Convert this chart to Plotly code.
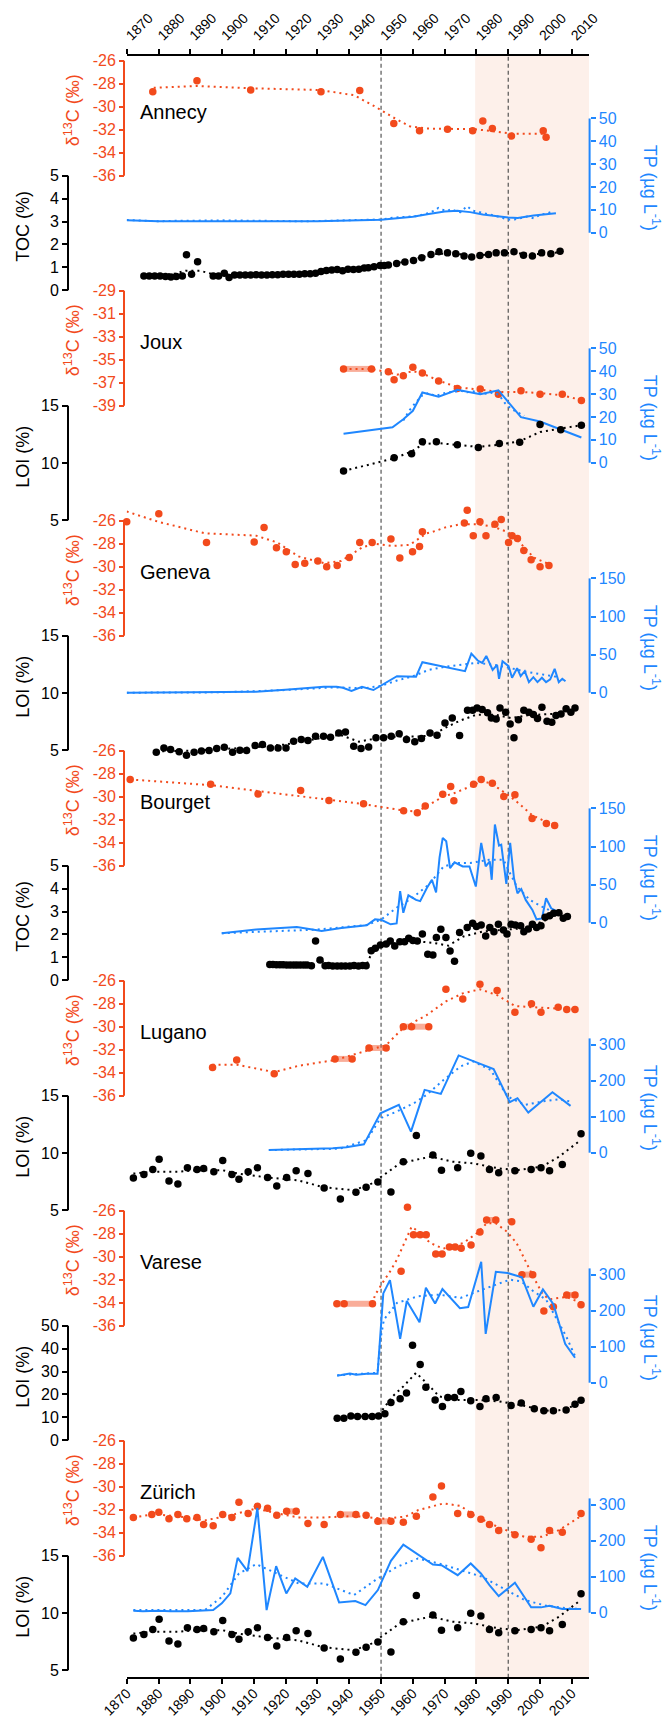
import plotly.graph_objects as go

W, H = 669, 1718
FONT = "Liberation Sans, Arial, Helvetica, sans-serif"
ORANGE = "#F24A1C"
BAR = "rgba(242,74,28,0.45)"
BLUE = "#1F87FF"
BLACK = "#000000"
SHADE = "#FDF0EA"
DOT = "2px,4px"

X_RANGE = [1870, 2015.4]
X_PX = [126.7, 589.0]
Y_TOP_PX, Y_BOT_PX = 55.0, 1677.7
YEAR_TICKS = list(range(1870, 2011, 10))
SHADE_START = 1979.6
DASH_YEARS = [1950, 1990]

# ---------------- Annecy ----------------
ann_c_yr = [1878.2, 1892.1, 1909.0, 1931.1, 1943.3, 1954.0, 1962.1, 1970.9, 1978.8, 1982.0, 1985.0, 1991.0, 2001.0, 2001.9]
ann_c = [-28.7, -27.75, -28.55, -28.7, -28.6, -31.45, -32.1, -31.95, -32.1, -31.25, -31.9, -32.55, -32.1, -32.65]
ann_cfit_yr = [1878.5, 1892, 1909, 1930.8, 1941.5, 1948.2, 1953.6, 1959, 1964.4, 1971, 1979, 1984.5, 1991, 1997.7, 2001.9]
ann_cfit = [-28.35, -28.2, -28.4, -28.55, -29.0, -30.0, -30.9, -31.7, -31.9, -31.95, -31.95, -32.1, -32.35, -32.35, -32.35]
ann_bars = []
ann_tp_yr = [1870, 1880, 1890, 1900, 1910, 1920, 1930, 1940, 1945, 1950, 1955, 1960, 1965, 1970, 1974, 1978, 1982, 1986, 1990, 1993, 1998, 2005]
ann_tp = [5.4, 5.0, 5.0, 5.1, 5.0, 5.0, 5.0, 5.2, 5.3, 5.7, 6.3, 7.0, 8.2, 9.3, 9.6, 9.0, 8.0, 7.2, 6.6, 6.4, 7.5, 8.5]
ann_tpm_yr = [1870, 1875, 1880, 1885, 1890, 1895, 1900, 1905, 1910, 1915, 1920, 1925, 1930, 1935, 1940, 1945, 1950,
              1954, 1957, 1959, 1961, 1963, 1965, 1967, 1968, 1969, 1971, 1972, 1974, 1975, 1976, 1977, 1978, 1979,
              1981, 1983, 1985, 1987, 1989, 1990, 1992, 1994, 1996, 1998, 2000, 2002, 2004]
ann_tpm = [5.6, 5.2, 5.0, 5.2, 5.1, 5.3, 5.4, 5.3, 5.1, 5.0, 5.1, 5.0, 5.1, 5.2, 5.4, 5.5, 5.8,
           6.6, 6.9, 7.3, 7.2, 7.9, 8.6, 9.8, 10.8, 10.1, 9.6, 10.4, 9.1, 9.0, 10.2, 11.6, 10.5, 9.6,
           9.0, 8.4, 7.8, 7.0, 6.1, 5.7, 5.8, 6.4, 7.1, 6.3, 7.8, 8.4, 9.3]
ann_om_yr = [1875.4, 1877.1, 1878.8, 1880.5, 1882.2, 1883.9, 1885.6, 1887.5, 1888.8, 1890.4, 1892.3,
             1897.2, 1898.9, 1900.7, 1902.2, 1903.9, 1905.6, 1907.3, 1909.0, 1910.7,
             1912.4, 1914.1, 1915.8, 1917.5, 1919.2, 1920.9, 1922.6, 1924.3, 1926.0, 1927.7,
             1929.4, 1931.1, 1932.8, 1934.5, 1936.2, 1937.9, 1939.6, 1941.3, 1943.0, 1944.7,
             1946.0, 1947.8, 1949.7, 1951.0, 1952.3, 1954.9, 1957.5, 1960.2, 1962.8, 1965.7,
             1968.2, 1970.9, 1973.5, 1976.1, 1978.5, 1981.1, 1983.8, 1986.2, 1988.8, 1991.8,
             1994.8, 1997.6, 2000.5, 2003.4, 2006.3]
ann_om = [0.62, 0.62, 0.62, 0.62, 0.6, 0.58, 0.6, 0.62, 1.55, 0.7, 1.24,
          0.62, 0.62, 0.74, 0.56, 0.66, 0.66, 0.66, 0.66, 0.68,
          0.66, 0.66, 0.68, 0.68, 0.7, 0.7, 0.7, 0.7, 0.72, 0.72,
          0.74, 0.82, 0.86, 0.88, 0.9, 0.85, 0.92, 0.9, 0.92, 0.97,
          0.98, 1.02, 1.08, 1.08, 1.1, 1.17, 1.23, 1.3, 1.42, 1.56,
          1.68, 1.63, 1.59, 1.49, 1.45, 1.52, 1.56, 1.63, 1.63, 1.68,
          1.53, 1.49, 1.63, 1.59, 1.7]
ann_omfit_yr = [1875.4, 1885, 1888.5, 1893, 1897.2, 1905, 1915, 1925, 1935, 1945, 1955, 1962, 1967, 1972, 1980, 1990, 2000, 2006.3]
ann_omfit = [0.62, 0.72, 0.85, 0.85, 0.7, 0.66, 0.68, 0.71, 0.87, 0.96, 1.17, 1.4, 1.58, 1.6, 1.52, 1.62, 1.58, 1.66]

# ---------------- Joux ----------------
joux_c_yr = [1938.2, 1947.0, 1952.3, 1954.1, 1957.0, 1960.0, 1963.0, 1968.1, 1974.0, 1981.2, 1986.9, 1994.0, 2000.0, 2007.0, 2013.0]
joux_c = [-35.8, -35.8, -36.05, -36.75, -36.4, -35.65, -36.15, -36.85, -37.5, -37.55, -38.0, -37.7, -38.0, -38.0, -38.55]
joux_cfit_yr = [1938.2, 1947, 1952.3, 1955, 1960, 1963, 1968, 1974, 1981, 1987, 1994, 2000, 2007, 2013]
joux_cfit = [-35.8, -35.8, -36.1, -36.3, -36.0, -36.2, -36.8, -37.4, -37.6, -37.8, -37.8, -37.9, -38.1, -38.5]
joux_bars = [(1938.2, 1947.0, -35.8)]
joux_tp_yr = [1938.2, 1952.3, 1953.6, 1957.0, 1960.0, 1963.0, 1968.1, 1974.0, 1981.2, 1986.9, 1994.0, 2000.0, 2007.0, 2013.0]
joux_tp = [12.7, 15.1, 15.5, 19.0, 22.7, 30.7, 28.9, 31.9, 30.0, 31.7, 19.9, 18.0, 14.3, 11.0]
joux_tpm_yr = [1957, 1959, 1961, 1963, 1965, 1967, 1969, 1971, 1973, 1975, 1977, 1979, 1981, 1983, 1985, 1987, 1989, 1991, 1993, 1995]
joux_tpm = [18.5, 23.0, 26.5, 29.5, 30.5, 29.2, 30.0, 30.8, 31.0, 31.5, 30.8, 31.2, 30.5, 30.2, 30.6, 29.8, 26.0, 23.5, 22.0, 20.5]
joux_om_yr = [1938.2, 1954.1, 1959.6, 1963.0, 1967.4, 1974.0, 1980.6, 1987.2, 1993.6, 2000.0, 2006.5, 2013.0]
joux_om = [9.3, 10.45, 10.8, 11.85, 11.85, 11.6, 11.35, 11.7, 11.8, 13.35, 12.9, 13.3]
joux_omfit_yr = [1938.2, 1954.1, 1959.6, 1963.0, 1967.4, 1974.0, 1980.6, 1987.2, 1993.6, 2000.0, 2006.5, 2013.0]
joux_omfit = [9.3, 10.4, 11.0, 11.6, 11.75, 11.6, 11.4, 11.6, 11.9, 12.7, 13.0, 13.3]

# ---------------- Geneva ----------------
gen_c_yr = [1870.0, 1880.1, 1895.1, 1910.1, 1913.2, 1917.1, 1920.2, 1923.0, 1926.0, 1930.1, 1932.9, 1936.2,
            1940.0, 1943.3, 1947.2, 1953.1, 1955.9, 1959.9, 1962.1, 1963.0, 1976.2, 1977.1, 1979.0, 1981.1,
            1983.0, 1985.8, 1987.8, 1990.1, 1991.2, 1992.9, 1994.9, 1997.2, 2000.0, 2002.8]
gen_c = [-26.1, -25.4, -27.9, -27.85, -26.6, -28.35, -28.7, -29.8, -29.7, -29.5, -30.0, -29.9,
         -29.2, -27.9, -27.9, -27.6, -29.25, -28.7, -28.25, -26.95, -26.2, -25.1, -27.3, -26.1,
         -27.3, -26.3, -25.9, -27.9, -27.3, -27.55, -28.6, -29.4, -30.0, -29.9]
gen_cfit_yr = [1870, 1880, 1894.6, 1910.7, 1917.4, 1924, 1932.1, 1937.5, 1944.2, 1948.2, 1953.6, 1959, 1964.3,
               1967, 1970, 1975, 1980, 1985, 1990, 1994, 1998, 2003]
gen_cfit = [-25.2, -26.1, -27.1, -27.3, -27.9, -29.1, -29.7, -29.5, -28.3, -28.0, -28.2, -28.1, -27.1,
            -26.9, -26.6, -26.3, -26.3, -26.5, -27.0, -28.0, -29.2, -29.8]
gen_bars = []
gen_tp_yr = [1870, 1900, 1910.7, 1921, 1932, 1936, 1938, 1940.7, 1944, 1947.6, 1955, 1961, 1963, 1976.4,
             1978.4, 1980.4, 1981.8, 1983.1, 1985.1, 1986.5, 1987.1, 1988.2, 1990.1, 1991.2, 1992.8, 1993.9,
             1995.2, 1996.5, 1997.9, 1999.2, 2000.6, 2001.9, 2003.2, 2004.6, 2005.9, 2007, 2008]
gen_tp = [0, 1, 1.3, 4.3, 7.8, 7.8, 6.5, 2.2, 7.8, 3.5, 21.7, 20.9, 40, 28.3,
          51.3, 42.2, 39, 48.3, 30, 36.5, 18.3, 41.3, 34.8, 19.6, 32.2, 21.7,
          28.3, 13.9, 20.4, 13.9, 19.6, 13.9, 17.4, 31.3, 13.9, 18.3, 15.0]
gen_tpm_yr = [1870, 1900, 1920, 1935, 1945, 1950, 1955, 1960, 1965, 1970, 1976, 1980, 1985, 1990, 1995, 2000, 2005]
gen_tpm = [0, 0.5, 3.5, 7, 6, 9, 16, 21.5, 30, 34, 37, 39, 37, 33, 28, 24, 21]
gen_om_yr = [1879.3, 1881.7, 1883.8, 1886.5, 1888.8, 1891.2, 1893.5, 1895.9, 1898.3, 1900.7,
             1903.3, 1905.6, 1907.7, 1910.4, 1912.7, 1915.2, 1917.6, 1920.1, 1922.5, 1924.9,
             1927.0, 1929.4, 1931.9, 1934.1, 1936.7, 1938.8, 1941.4, 1943.7, 1946.1, 1948.4,
             1950.8, 1953.2, 1955.7, 1958.0, 1960.6, 1962.7, 1965.4, 1967.6, 1970.1, 1972.4,
             1974.7, 1977.2, 1978.8, 1980.2, 1981.8, 1983.5, 1984.7, 1986.2, 1987.4, 1989.2,
             1990.6, 1991.8, 1993.2, 1994.9, 1996.5, 1997.9, 1999.2, 2000.6, 2002.2, 2003.7,
             2005.0, 2006.6, 2008.2, 2009.7, 2011.0]
gen_om = [4.83, 5.2, 5.06, 4.86, 4.55, 4.83, 4.92, 4.97, 5.15, 5.26,
          4.83, 5.0, 4.97, 5.41, 5.49, 5.2, 5.2, 5.2, 5.78, 5.93,
          5.84, 6.22, 6.22, 6.13, 6.51, 6.6, 5.35, 5.15, 5.29, 6.08,
          6.08, 6.22, 6.43, 5.93, 5.73, 6.02, 6.51, 6.31, 7.38, 7.82,
          6.28, 8.49, 8.49, 8.69, 8.55, 8.26, 7.82, 7.73, 8.69, 8.31,
          7.29, 6.08, 7.67, 8.49, 8.31, 8.11, 7.76, 8.75, 7.53, 7.44,
          8.02, 8.17, 8.63, 8.31, 8.69]
gen_omfit_yr = [1879.3, 1890, 1900, 1910, 1920, 1930, 1937, 1943, 1950, 1956, 1962, 1966, 1970.5, 1975,
                1980, 1986, 1991, 1996, 2001, 2006, 2011]
gen_omfit = [4.9, 4.95, 5.1, 5.25, 5.5, 6.0, 6.35, 5.75, 6.1, 6.2, 6.2, 6.3, 7.0, 7.6,
             8.1, 8.1, 7.8, 8.05, 8.15, 8.2, 8.5]

# ---------------- Bourget ----------------
bou_c_yr = [1871.1, 1896.4, 1911.3, 1924.7, 1933.6, 1944.5, 1957.1, 1961.4, 1963.9, 1969.4, 1971.9, 1972.9,
            1979.1, 1981.5, 1985.0, 1988.6, 1992.1, 1997.5, 2002.0, 2004.6]
bou_c = [-28.51, -28.92, -29.76, -29.47, -30.34, -30.62, -31.23, -31.4, -30.8, -29.79, -29.12, -30.36,
         -28.92, -28.51, -28.83, -29.99, -29.84, -31.9, -32.33, -32.5]
bou_cfit_yr = [1871.1, 1896.4, 1911.3, 1924.7, 1933.6, 1944.5, 1957.1, 1961.4, 1963.9, 1969.4, 1972.9,
               1979.1, 1981.5, 1985.0, 1988.6, 1992.1, 1997.5, 2002.0, 2004.6]
bou_cfit = [-28.5, -29.0, -29.5, -29.95, -30.25, -30.65, -31.2, -31.3, -30.9, -30.0, -29.7,
            -29.0, -28.6, -28.9, -29.6, -30.3, -31.6, -32.2, -32.4]
bou_bars = []
bou_tp_yr = [1899.9, 1910.7, 1923.5, 1931.3, 1937.5, 1945.5, 1948.1, 1950.2, 1953.0, 1954.9, 1956.0, 1957.0,
             1958.6, 1961.0, 1962.3, 1964.4, 1966.0, 1967.3, 1968.4, 1969.4, 1970.5, 1971.7, 1973.1, 1975.7,
             1977.8, 1979.8, 1981.5, 1982.9, 1984.2, 1984.8, 1985.8, 1987.1, 1987.8, 1989.4, 1990.6, 1991.8,
             1992.9, 1994.1, 1995.5, 1997.6, 1998.9, 2000.6, 2001.9, 2003.5, 2004.9, 2005.9]
bou_tp = [-13.8, -9, -5.6, -10.8, -7, -3.4, 4.4, 3.5, -2.1, -1, 41.3, 13.0,
          36.0, 30, 28.3, 45.6, 56.3, 39.6, 85.8, 111.3, 106.9, 71.7, 79.2, 73.9,
          73.9, 47.5, 104.7, 73.9, 80.5, 56.3, 128.9, 101.2, 102.5, 51.0, 104.7, 58.5,
          38.7, 44.0, 29.9, 16.7, 4.4, 5.7, 32.1, 18.9, 15.8, 14.5]
bou_tpm_yr = [1899.9, 1930, 1945.5, 1950, 1955, 1960, 1965, 1969.7, 1974, 1978, 1984, 1988.5, 1990, 1992.7, 1996.8, 2000.6, 2004.6]
bou_tpm = [-13.8, -9, -3, 4, 20, 33, 50, 73.9, 78.3, 78.3, 82.7, 82.7, 69.5, 47.5, 29.9, 21.1, 13.2]
bou_om_yr = [1915.0, 1916.0, 1917.1, 1918.2, 1919.2, 1920.3, 1921.4, 1922.5, 1923.5, 1924.6, 1925.7, 1926.7, 1928.1,
             1929.4, 1930.8, 1932.4,
             1933.5, 1934.8, 1936.2, 1937.5, 1938.8, 1940.2, 1941.5, 1942.9, 1944.2, 1945.3,
             1946.9, 1948.2, 1949.8, 1951.6, 1952.9, 1954.3, 1955.9, 1957.4, 1958.7, 1960.0,
             1961.4, 1963.0, 1964.7, 1966.3, 1967.4, 1968.8, 1970.4, 1971.7, 1973.1, 1974.7,
             1977.1, 1978.8, 1980.0, 1981.5, 1982.9, 1984.2, 1985.5, 1986.9, 1988.5, 1989.6,
             1990.9, 1992.2, 1993.9, 1994.9, 1996.3, 1997.6, 1998.9, 2000.3, 2001.6, 2003.0,
             2004.3, 2005.9, 2007.3, 2008.6]
bou_om = [0.69, 0.69, 0.68, 0.67, 0.67, 0.66, 0.66, 0.66, 0.66, 0.66, 0.66, 0.66, 0.63,
          1.71, 0.88, 0.63,
          0.64, 0.62, 0.62, 0.62, 0.62, 0.62, 0.64, 0.62, 0.64, 0.63,
          1.29, 1.39, 1.54, 1.58, 1.71, 1.49, 1.68, 1.68, 1.83, 1.73,
          1.71, 2.02, 1.13, 1.1, 1.86, 2.22, 1.86, 1.27, 0.83, 2.08,
          2.3, 2.49, 2.34, 2.41, 1.93, 2.3, 2.12, 2.44, 2.19, 2.02,
          2.44, 2.41, 2.38, 2.12, 2.24, 2.44, 2.3, 2.38, 2.75, 2.81,
          2.92, 2.95, 2.7, 2.78]
bou_omfit_yr = [1915.0, 1928.1, 1930.8, 1933.5, 1945.3, 1947.1, 1950, 1955, 1961.2, 1966.4, 1971.2, 1975.9,
                1982.2, 1989.5, 1995.8, 2002.1, 2006.3, 2008.6]
bou_omfit = [0.68, 0.66, 0.9, 0.64, 0.64, 1.2, 1.5, 1.63, 1.7, 1.63, 1.51, 1.91,
             2.13, 2.2, 2.28, 2.64, 2.93, 2.85]

# ---------------- Lugano ----------------
lug_c_yr = [1897.0, 1904.6, 1916.4, 1935.5, 1940.9, 1946.2, 1951.6, 1957.0, 1959.6, 1965.0, 1970.4, 1975.7,
            1981.1, 1986.5, 1992.1, 1997.3, 2000.3, 2005.7, 2008.4, 2011.0]
lug_c = [-33.55, -32.9, -34.1, -32.8, -32.8, -31.85, -31.85, -30.0, -30.0, -30.0, -26.75, -27.6,
         -26.3, -26.85, -28.75, -28.0, -28.75, -28.3, -28.5, -28.5]
lug_cfit_yr = [1897, 1904.6, 1916.4, 1924, 1935.5, 1946.2, 1951.6, 1957, 1964.3, 1970.4, 1975.7, 1981.1,
               1986.5, 1989.8, 1992.1, 1997.3, 2004, 2011]
lug_cfit = [-33.3, -33.3, -33.95, -33.4, -32.9, -32.0, -31.6, -30.1, -29.0, -27.8, -27.1, -26.75,
            -27.25, -27.8, -28.2, -28.3, -28.4, -28.5]
lug_bars = [(1935.5, 1940.9, -32.8), (1946.2, 1951.6, -31.85), (1957.0, 1965.0, -30.0)]
lug_tp_yr = [1914.7, 1924.1, 1934.8, 1939.1, 1944.6, 1949.8, 1955.6, 1959.4, 1963.7, 1968.8, 1974.4, 1979.8,
             1985.4, 1990.5, 1992.9, 1996.3, 2003.9, 2009.6]
lug_tp = [7.4, 9.3, 12.1, 14.9, 23.2, 109.6, 132.8, 58.5, 174.6, 163.4, 270.2, 251.6,
          232.1, 140.2, 151.3, 111.4, 168.1, 130.0]
lug_tpm_yr = [1914.7, 1937, 1945.5, 1949.8, 1954.9, 1960.3, 1964.3, 1969.7, 1975, 1979, 1984.4, 1989.8,
              1995.2, 2000.6, 2006, 2009.6]
lug_tpm = [7.4, 11, 35, 95.6, 114.2, 137.4, 160.6, 202.4, 239.6, 253.5, 230.3, 156,
           132.8, 142.1, 148.6, 142]
lug_om_yr = [1872.1, 1875.4, 1878.2, 1880.2, 1883.3, 1886.1, 1889.1, 1892.1, 1894.2, 1897.4,
             1900.2, 1903.1, 1905.3, 1908.2, 1911.1, 1914.3, 1917.2, 1920.3, 1923.3, 1927.0,
             1932.1, 1937.2, 1942.1, 1945.3, 1949.0, 1953.1, 1957.0, 1961.1, 1966.3, 1969.0,
             1974.1, 1978.2, 1981.4, 1984.1, 1987.0, 1992.1, 1997.2, 2000.3, 2003.0, 2007.0, 2012.9]
lug_om = [7.82, 8.12, 8.56, 9.44, 7.56, 7.29, 8.71, 8.56, 8.65, 8.35,
          9.35, 8.12, 7.71, 8.35, 8.71, 7.85, 7.12, 7.85, 8.44, 8.21,
          6.94, 5.97, 6.56, 7.0, 7.47, 6.59, 9.24, 11.53, 9.82, 8.5,
          8.71, 9.97, 9.74, 8.56, 8.26, 8.44, 8.56, 8.71, 8.44, 9.0, 11.68]
lug_omfit_yr = [1872.1, 1878.2, 1886, 1892, 1900, 1905, 1913, 1924, 1932, 1941.5, 1947, 1956, 1965.7,
                1972.4, 1979, 1987, 1993, 2000.6, 2006, 2012.9]
lug_omfit = [8.2, 8.35, 8.35, 8.5, 8.5, 8.2, 7.9, 7.6, 7.0, 6.74, 7.32, 9.1, 9.68,
             9.24, 9.09, 8.65, 8.5, 8.8, 9.68, 11.15]

# ---------------- Varese ----------------
var_c_yr = [1936.1, 1938.4, 1947.3, 1956.3, 1958.3, 1960.2, 1962.3, 1964.2, 1967.2, 1969.2, 1971.5, 1973.3,
            1975.2, 1978.3, 1981.1, 1983.2, 1986.1, 1991.1, 1994.3, 1997.7, 2001.2, 2004.2, 2008.4, 2011.0, 2012.9]
var_c = [-34.1, -34.1, -34.1, -31.27, -25.7, -28.1, -28.1, -28.1, -29.77, -29.77, -29.16, -29.16,
         -29.27, -28.98, -27.85, -26.81, -26.81, -26.96, -31.56, -31.56, -34.73, -34.35, -33.33, -33.33, -34.18]
var_cfit_yr = [1947.3, 1948.1, 1950.7, 1952.8, 1954.9, 1957.0, 1959.6, 1962.3, 1965.4, 1969.6, 1975.9, 1980.1,
               1983.2, 1986.1, 1989.5, 1992.6, 1994.7, 1997.8, 2000.9, 2003.0, 2008.2, 2012.9]
var_cfit = [-34.1, -33.33, -32.17, -31.3, -30.3, -28.98, -27.4, -27.9, -28.8, -29.3, -28.8, -27.97,
            -27.1, -27.1, -27.8, -28.8, -30.0, -31.7, -33.3, -33.7, -33.5, -34.0]
var_bars = [(1936.1, 1947.3, -34.1), (1960.2, 1964.2, -28.1), (1967.2, 1969.2, -29.77),
            (1971.5, 1973.3, -29.16), (1983.2, 1986.1, -26.81), (1994.3, 1997.7, -31.56), (2008.4, 2011.0, -33.33)]
var_tp_yr = [1936.2, 1937.5, 1940.2, 1942.2, 1945.5, 1948.9, 1950.7, 1952.8, 1956.0, 1958.1, 1962.1, 1964.1,
             1967.0, 1969.3, 1974.8, 1977.4, 1981.5, 1982.9, 1986.1, 1989.8, 1994.3, 1997.9, 2000.9, 2004.2,
             2007.9, 2011.0]
var_tp = [20.3, 21.2, 25.8, 22.2, 24.9, 24.9, 248, 285, 121.9, 227, 168, 264,
          220, 260, 206.7, 210, 336, 135.7, 308, 304.7, 292.6, 211, 259, 218,
          108, 69.3]
var_tpm_yr = [1936.2, 1948.9, 1949.8, 1950.9, 1955, 1961.6, 1968.3, 1975, 1981.8, 1986.5, 1990.5, 1994.1,
              1997.9, 2001.9, 2005.4, 2008.2, 2011.0]
var_tpm = [20.3, 27.7, 120, 175.4, 221.6, 240, 244.7, 235.5, 258.5, 272.4, 286.2, 281.6,
           253.9, 230.8, 175.4, 129.3, 73.9]
var_om_yr = [1936.2, 1938.3, 1940.5, 1942.6, 1945.0, 1947.2, 1949.2, 1951.2, 1953.1, 1956.0, 1958.0, 1959.9,
             1962.3, 1964.1, 1967.0, 1969.3, 1971.0, 1973.1, 1975.1, 1978.2, 1981.1, 1983.0, 1986.2, 1990.9,
             1994.1, 1998.2, 2001.2, 2004.2, 2008.2, 2011.0, 2012.9]
var_om = [9.6, 9.6, 10.6, 10.3, 10.3, 10.3, 10.6, 11.5, 16.5, 18.1, 20.6, 41.5,
          33.1, 23.1, 17.6, 14.7, 18.7, 18.7, 21.3, 17.2, 14.7, 18.1, 18.7, 15.1,
          16.2, 13.7, 12.9, 12.9, 13.2, 15.7, 17.4]
var_omfit_yr = [1936.2, 1949.2, 1953.6, 1957, 1961, 1964.3, 1968.3, 1973.7, 1980.4, 1987.2, 1993.9, 2000.6,
                2004.6, 2010, 2012.9]
var_omfit = [9.6, 10.9, 19.1, 23.5, 29.4, 25.0, 19.1, 17.6, 17.6, 16.9, 15.4, 13.2,
             12.5, 14.7, 17.2]

# ---------------- Zürich ----------------
zur_c_yr = [1872.1, 1877.9, 1880.1, 1883.3, 1886.1, 1888.9, 1892.1, 1894.2, 1897.2, 1900.2, 1903.1, 1905.3,
            1908.2, 1911.1, 1914.3, 1917.2, 1920.3, 1923.3, 1927.0, 1932.1, 1937.2, 1942.1, 1945.3, 1949.0,
            1953.1, 1957.0, 1961.1, 1966.3, 1969.0, 1974.1, 1978.2, 1981.4, 1984.1, 1987.0, 1992.1, 1997.2,
            2000.3, 2003.0, 2007.0, 2012.9]
zur_c = [-32.67, -32.41, -32.23, -32.78, -32.41, -32.78, -32.67, -33.28, -33.39, -32.41, -32.67, -31.36,
         -32.32, -31.71, -31.88, -32.49, -32.14, -32.14, -33.19, -33.28, -32.41, -32.41, -32.49, -33.01,
         -33.01, -33.10, -32.58, -30.90, -29.94, -32.32, -32.41, -32.84, -33.28, -33.80, -34.17, -34.58,
         -35.30, -33.80, -33.97, -32.32]
zur_cfit_yr = [1872.1, 1878.4, 1886.5, 1894.6, 1902.6, 1910.7, 1917.4, 1924, 1932.1, 1941.5, 1951, 1957.7,
               1961.7, 1969.7, 1975.1, 1979, 1987, 1995, 2000.6, 2006, 2012.9]
zur_cfit = [-32.67, -32.4, -32.58, -32.93, -32.49, -31.9, -32.32, -32.67, -32.67, -32.55, -32.78, -32.6,
            -32.03, -31.45, -31.68, -32.46, -33.54, -34.35, -34.35, -33.77, -32.55]
zur_bars = [(1920.3, 1923.3, -32.14), (1937.2, 1942.1, -32.41), (1949.0, 1953.1, -33.01)]
zur_tp_yr = [1872.1, 1875.1, 1879.8, 1883.8, 1889.2, 1894.6, 1897.2, 1899.9, 1902.6, 1904.9, 1908.0, 1911.1,
             1914.0, 1917.0, 1920.2, 1923.0, 1926.8, 1931.7, 1936.8, 1941.9, 1945.1, 1949.0, 1953.1, 1957.0,
             1966.3, 1969.0, 1974.1, 1978.2, 1981.4, 1984.1, 1987.0, 1992.1, 1997.2, 2000.3, 2003.0, 2007.0, 2012.9]
zur_tp = [5.5, 3.7, 5.5, 3.7, 3.7, 5.5, 7.4, 25.9, 53.6, 152.4, 115.4, 290.9,
          7.4, 129.3, 53.6, 95.1, 72.0, 155.1, 28.6, 32.3, 21.2, 62.8, 144.0, 189.3,
          133.9, 132.0, 104.3, 136.7, 109.0, 76.6, 46.2, 83.1, 14.8, 14.8, 19.4, 10.2, 10.2]
zur_tpm_yr = [1872.1, 1894.6, 1900.0, 1905.3, 1910.7, 1917.4, 1924.1, 1932.1, 1941.5, 1948.2, 1955.0, 1961.6,
              1968.3, 1975.0, 1981.8, 1988.5, 1995.2, 2001.9, 2008.6, 2012.9]
zur_tpm = [7.4, 7.4, 44.3, 109, 134.8, 109, 81.3, 81.3, 49, 90.5, 127.4, 150.5,
           136.7, 118.2, 99.7, 67.4, 35.1, 19.4, 12.0, 10.2]
zur_om_yr = list(lug_om_yr)
zur_om = list(lug_om)
zur_omfit_yr = list(lug_omfit_yr)
zur_omfit = list(lug_omfit)

C_TICKS_26 = [-26, -28, -30, -32, -34, -36]
C_TICKS_29 = [-29, -31, -33, -35, -37, -39]

panels = [
    dict(name="Annecy", om_title="TOC (%)", c_ticks=C_TICKS_26, om_ticks=[0, 1, 2, 3, 4, 5],
         tp_ticks=[0, 10, 20, 30, 40, 50], tp_ref=50, tp_ref_off=57.7,
         c=(ann_c_yr, ann_c), cfit=(ann_cfit_yr, ann_cfit), bars=ann_bars,
         tp=(ann_tp_yr, ann_tp), tpm=(ann_tpm_yr, ann_tpm), om=(ann_om_yr, ann_om), omfit=(ann_omfit_yr, ann_omfit)),
    dict(name="Joux", om_title="LOI (%)", c_ticks=C_TICKS_29, om_ticks=[5, 10, 15],
         tp_ticks=[0, 10, 20, 30, 40, 50], tp_ref=50, tp_ref_off=57.7,
         c=(joux_c_yr, joux_c), cfit=(joux_cfit_yr, joux_cfit), bars=joux_bars,
         tp=(joux_tp_yr, joux_tp), tpm=(joux_tpm_yr, joux_tpm), om=(joux_om_yr, joux_om), omfit=(joux_omfit_yr, joux_omfit)),
    dict(name="Geneva", om_title="LOI (%)", c_ticks=C_TICKS_26, om_ticks=[5, 10, 15],
         tp_ticks=[0, 50, 100, 150], tp_ref=150, tp_ref_off=57.7,
         c=(gen_c_yr, gen_c), cfit=(gen_cfit_yr, gen_cfit), bars=gen_bars,
         tp=(gen_tp_yr, gen_tp), tpm=(gen_tpm_yr, gen_tpm), om=(gen_om_yr, gen_om), omfit=(gen_omfit_yr, gen_omfit)),
    dict(name="Bourget", om_title="TOC (%)", c_ticks=C_TICKS_26, om_ticks=[0, 1, 2, 3, 4, 5],
         tp_ticks=[0, 50, 100, 150], tp_ref=150, tp_ref_off=57.7,
         c=(bou_c_yr, bou_c), cfit=(bou_cfit_yr, bou_cfit), bars=bou_bars,
         tp=(bou_tp_yr, bou_tp), tpm=(bou_tpm_yr, bou_tpm), om=(bou_om_yr, bou_om), omfit=(bou_omfit_yr, bou_omfit)),
    dict(name="Lugano", om_title="LOI (%)", c_ticks=C_TICKS_26, om_ticks=[5, 10, 15],
         tp_ticks=[0, 100, 200, 300], tp_ref=300, tp_ref_off=64.0,
         c=(lug_c_yr, lug_c), cfit=(lug_cfit_yr, lug_cfit), bars=lug_bars,
         tp=(lug_tp_yr, lug_tp), tpm=(lug_tpm_yr, lug_tpm), om=(lug_om_yr, lug_om), omfit=(lug_omfit_yr, lug_omfit)),
    dict(name="Varese", om_title="LOI (%)", c_ticks=C_TICKS_26, om_ticks=[0, 10, 20, 30, 40, 50],
         tp_ticks=[0, 100, 200, 300], tp_ref=300, tp_ref_off=64.0,
         c=(var_c_yr, var_c), cfit=(var_cfit_yr, var_cfit), bars=var_bars,
         tp=(var_tp_yr, var_tp), tpm=(var_tpm_yr, var_tpm), om=(var_om_yr, var_om), omfit=(var_omfit_yr, var_omfit)),
    dict(name="Zürich", om_title="LOI (%)", c_ticks=C_TICKS_26, om_ticks=[5, 10, 15],
         tp_ticks=[0, 100, 200, 300], tp_ref=300, tp_ref_off=64.0,
         c=(zur_c_yr, zur_c), cfit=(zur_cfit_yr, zur_cfit), bars=zur_bars,
         tp=(zur_tp_yr, zur_tp), tpm=(zur_tpm_yr, zur_tpm), om=(zur_om_yr, zur_om), omfit=(zur_omfit_yr, zur_omfit)),
]

# ---------------- layout helpers ----------------
PANEL_T0, PANEL_STEP = 60.7, 230.0
C_POS, OM_POS, TP_POS = 124.0, 68.0, 589.6
DOMAIN = [1 - Y_BOT_PX / H, 1 - Y_TOP_PX / H]


def pf(py):
    return 1 - py / H


def lin_range(v_a, p_a, v_b, p_b):
    s = (v_b - v_a) / (p_b - p_a)
    return [v_a + (Y_BOT_PX - p_a) * s, v_a + (Y_TOP_PX - p_a) * s], s


def fmt(v):
    return ("-" + str(abs(v))) if v < 0 else str(v)


def yname(i):
    return "y" if i == 1 else f"y{i}"


def lname(i):
    return "yaxis" if i == 1 else f"yaxis{i}"


def ax(rng, ticks, color, pos, side, ticklen=5):
    return dict(domain=DOMAIN, range=rng, anchor="free", position=pos / W, side=side,
                tickmode="array", tickvals=ticks, ticktext=[fmt(v) for v in ticks],
                ticks="outside", ticklen=ticklen, tickwidth=2, tickcolor=color,
                tickfont=dict(family=FONT, size=16, color=color),
                showline=False, showgrid=False, zeroline=False, automargin=False, fixedrange=True)


fig = go.Figure()
layout_axes = {}
shapes = []
annotations = []

# shading and reference lines
shapes.append(dict(type="rect", xref="x", yref="paper", x0=SHADE_START, x1=X_RANGE[1],
                   y0=DOMAIN[0], y1=DOMAIN[1], fillcolor=SHADE, line=dict(width=0), layer="below"))
for yr in DASH_YEARS:
    shapes.append(dict(type="line", xref="x", yref="paper", x0=yr, x1=yr, y0=DOMAIN[0], y1=DOMAIN[1],
                       line=dict(color="#555555", width=1.2, dash="4px,3px"), layer="below"))

n = 0
for k, p in enumerate(panels):
    T = PANEL_T0 + PANEL_STEP * k
    c_id, tp_id, om_id = n + 1, n + 2, n + 3
    n += 3

    c_top, c_bot = max(p["c_ticks"]), min(p["c_ticks"])
    c_rng, _ = lin_range(c_top, T, c_bot, T + 115.0)
    o_top, o_bot = max(p["om_ticks"]), min(p["om_ticks"])
    o_rng, _ = lin_range(o_top, T + 115.0, o_bot, T + 229.5)
    t_rng, t_s = lin_range(0, T + 172.0, p["tp_ref"], T + p["tp_ref_off"])
    tp_line_top = (T + 57.7 - (T + 172.0)) * t_s

    layout_axes[lname(c_id)] = ax(c_rng, p["c_ticks"], ORANGE, C_POS, "left")
    layout_axes[lname(tp_id)] = ax(t_rng, p["tp_ticks"], BLUE, TP_POS, "right")
    layout_axes[lname(om_id)] = ax(o_rng, p["om_ticks"], BLACK, OM_POS, "left", ticklen=6)
    for i in (c_id, tp_id, om_id):
        if i != 1:
            layout_axes[lname(i)]["overlaying"] = "y"

    # axis lines in data coordinates
    shapes.append(dict(type="line", xref="paper", yref=yname(c_id), x0=C_POS / W, x1=C_POS / W,
                       y0=c_top, y1=c_bot, line=dict(color=ORANGE, width=2)))
    shapes.append(dict(type="line", xref="paper", yref=yname(om_id), x0=OM_POS / W, x1=OM_POS / W,
                       y0=o_top, y1=o_bot, line=dict(color=BLACK, width=2)))
    shapes.append(dict(type="line", xref="paper", yref=yname(tp_id), x0=TP_POS / W, x1=TP_POS / W,
                       y0=0, y1=tp_line_top, line=dict(color=BLUE, width=2)))

    # TP traces
    fig.add_trace(go.Scatter(x=p["tpm"][0], y=p["tpm"][1], mode="lines", yaxis=yname(tp_id),
                             line=dict(color=BLUE, width=2, dash=DOT)))
    fig.add_trace(go.Scatter(x=p["tp"][0], y=p["tp"][1], mode="lines", yaxis=yname(tp_id),
                             line=dict(color=BLUE, width=2)))
    # organic matter traces
    fig.add_trace(go.Scatter(x=p["omfit"][0], y=p["omfit"][1], mode="lines", yaxis=yname(om_id),
                             line=dict(color=BLACK, width=2, dash=DOT)))
    fig.add_trace(go.Scatter(x=p["om"][0], y=p["om"][1], mode="markers", yaxis=yname(om_id),
                             marker=dict(color=BLACK, size=7.5), cliponaxis=False))
    # d13C traces
    for (x0, x1, v) in p["bars"]:
        fig.add_trace(go.Scatter(x=[x0, x1], y=[v, v], mode="lines", yaxis=yname(c_id),
                                 line=dict(color=BAR, width=6)))
    fig.add_trace(go.Scatter(x=p["cfit"][0], y=p["cfit"][1], mode="lines", yaxis=yname(c_id),
                             line=dict(color=ORANGE, width=2, dash=DOT)))
    fig.add_trace(go.Scatter(x=p["c"][0], y=p["c"][1], mode="markers", yaxis=yname(c_id),
                             marker=dict(color=ORANGE, size=7.5), cliponaxis=False))

    # texts
    annotations.append(dict(text=p["name"], x=138 / W, y=pf(T + 51), xref="paper", yref="paper",
                            xanchor="left", yanchor="middle", showarrow=False,
                            font=dict(family=FONT, size=20, color=BLACK)))
    annotations.append(dict(text="δ<sup>13</sup>C (‰)", x=72.5 / W, y=pf(T + 50), xref="paper", yref="paper",
                            xanchor="center", yanchor="middle", showarrow=False, textangle=-90,
                            font=dict(family=FONT, size=18, color=ORANGE)))
    annotations.append(dict(text=p["om_title"], x=23 / W, y=pf(T + 166), xref="paper", yref="paper",
                            xanchor="center", yanchor="middle", showarrow=False, textangle=-90,
                            font=dict(family=FONT, size=18, color=BLACK)))
    annotations.append(dict(text="TP (µg L<sup>-1</sup>)", x=651 / W, y=pf(T + 127), xref="paper", yref="paper",
                            xanchor="center", yanchor="middle", showarrow=False, textangle=90,
                            font=dict(family=FONT, size=18, color=BLUE)))

# invisible trace so that the top year axis is drawn
fig.add_trace(go.Scatter(x=[X_RANGE[0]], y=[-30], xaxis="x2", yaxis="y", mode="markers",
                         marker=dict(opacity=0), hoverinfo="skip"))

xcommon = dict(domain=[X_PX[0] / W, X_PX[1] / W], range=X_RANGE, tickmode="array", tickvals=YEAR_TICKS,
               tickangle=-45, ticks="outside", ticklen=5, tickwidth=1.5, tickcolor=BLACK,
               tickfont=dict(family=FONT, size=14, color=BLACK), showline=True, linewidth=2,
               linecolor=BLACK, showgrid=False, zeroline=False, automargin=False, fixedrange=True,
               anchor="free")

fig.update_layout(
    width=W, height=H, margin=dict(l=0, r=0, t=0, b=0),
    paper_bgcolor="white", plot_bgcolor="rgba(0,0,0,0)",
    showlegend=False, hovermode=False,
    xaxis=dict(**xcommon, side="bottom", position=DOMAIN[0], ticklabelstandoff=-4),
    xaxis2=dict(**xcommon, side="top", position=DOMAIN[1], overlaying="x"),
    shapes=shapes, annotations=annotations,
    **layout_axes,
)

fig.write_html("out.html")
